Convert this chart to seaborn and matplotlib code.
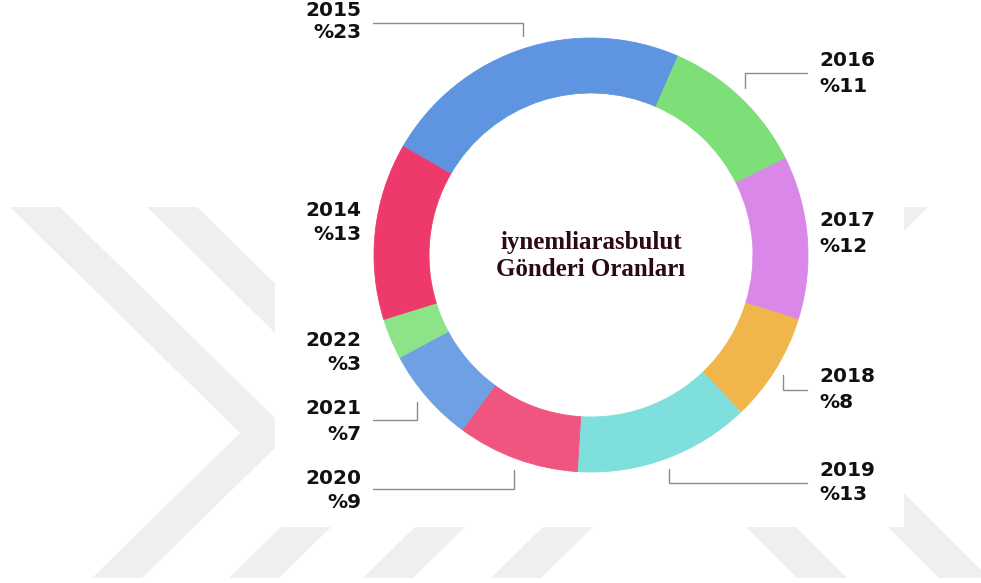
import matplotlib
matplotlib.use("Agg")
import matplotlib.pyplot as plt
from matplotlib.patches import Polygon, Rectangle
import seaborn as sns

# --- data ---------------------------------------------------------------
years = ["2015", "2016", "2017", "2018", "2019", "2020", "2021", "2022", "2014"]
shares = [23, 11, 12, 8, 13, 9, 7, 3, 13]
colors = ["#5f94e0", "#7ddf77", "#d987e8", "#f0b64c", "#7edfdc",
          "#ef557f", "#6fa0e3", "#8de488", "#ee3a6a"]
center_title = ["iynemliarasbulut", "Gönderi Oranları"]

sns.set_theme(style="white")
plt.rcParams["font.family"] = ["DejaVu Sans"]

W, H = 981, 583
fig = plt.figure(figsize=(W / 100, H / 100), dpi=100)
ax = fig.add_axes([0, 0, 1, 1])


def Y(y):
    """pixel row (top-down) -> data y (bottom-up)"""
    return H - y


def poly(pts, **kw):
    ax.add_patch(Polygon([(x, Y(y)) for x, y in pts], closed=True, **kw))


# --- faint chevron background -------------------------------------------
wm = "#efefef"
for o in [0, 137, 271, 399]:
    poly([(10 + o, 207), (60 + o, 207), (290 + o, 433), (142 + o, 578),
          (92 + o, 578), (240 + o, 433)], facecolor=wm, edgecolor="none", zorder=0)
poly([(878, 207), (928, 207), (702, 433), (847, 578), (797, 578), (652, 433)],
     facecolor=wm, edgecolor="none", zorder=0)
poly([(794, 433), (844, 433), (989, 578), (939, 578)],
     facecolor=wm, edgecolor="none", zorder=0)

# white panel behind the chart
ax.add_patch(Rectangle((275, Y(527)), 904 - 275, 527, facecolor="white",
                       edgecolor="none", zorder=1))

# --- donut --------------------------------------------------------------
cx, cy, R = 591, 255, 217
ring = 55
wedges, _ = ax.pie(shares, colors=colors, startangle=150, counterclock=False,
                   center=(cx, Y(cy)), radius=R,
                   wedgeprops=dict(width=ring, linewidth=0.6),
                   frame=True)
for w, c in zip(wedges, colors):
    w.set_edgecolor(c)
    w.set_zorder(2)

ax.set_xlim(0, W)
ax.set_ylim(0, H)
ax.set_aspect("equal")
ax.axis("off")

# --- centre title ---------------------------------------------------------
for txt, y in zip(center_title, [242, 270]):
    ax.text(cx, Y(y), txt, ha="center", va="center", fontsize=18,
            fontweight="bold", family=["Liberation Serif"], color="#2b0a12",
            zorder=3)

# --- labels ---------------------------------------------------------------
lab_pos = {
    "2015": ("right", 361, 10, 33),
    "2016": ("left", 819, 60, 86),
    "2017": ("left", 819, 220, 246),
    "2018": ("left", 819, 377, 403),
    "2019": ("left", 819, 471, 495),
    "2020": ("right", 361, 478, 503),
    "2021": ("right", 361, 409, 434),
    "2022": ("right", 361, 341, 365),
    "2014": ("right", 361, 211, 235),
}
for yr, val in zip(years, shares):
    ha, x, y1, y2 = lab_pos[yr]
    ax.text(x, Y(y1), yr, ha=ha, va="center", fontsize=14.5, fontweight="bold",
            color="#111111", zorder=3)
    ax.text(x, Y(y2), f"%{val}", ha=ha, va="center", fontsize=14.5,
            fontweight="bold", color="#111111", zorder=3)

# --- leader lines ---------------------------------------------------------
leaders = [
    [(373, 23), (523, 23), (523, 36)],
    [(807, 73), (745, 73), (745, 88)],
    [(807, 390), (783, 390), (783, 375)],
    [(807, 483), (669, 483), (669, 469)],
    [(373, 420), (417, 420), (417, 402)],
    [(373, 489), (514, 489), (514, 470)],
]
for pts in leaders:
    ax.plot([p[0] for p in pts], [Y(p[1]) for p in pts], color="#8c8c8c",
            lw=1.0, zorder=3, solid_joinstyle="miter")

fig.savefig("out.png", dpi=100, facecolor="white")
